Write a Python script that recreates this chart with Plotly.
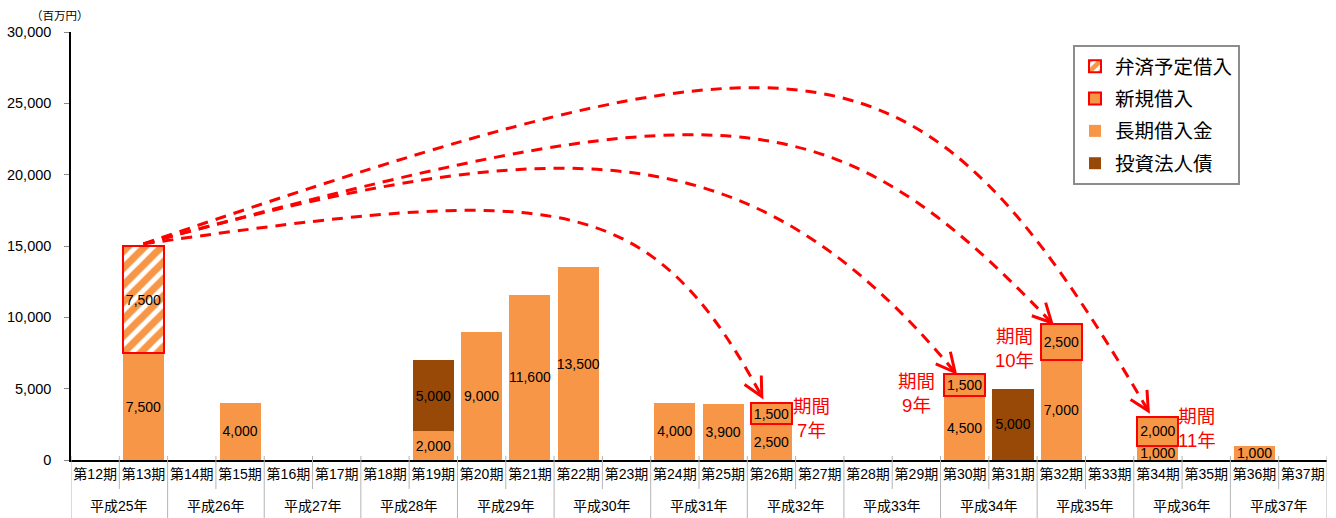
import numpy as np
import plotly.graph_objects as go

# ---------------- data ----------------
periods = [f"第{i}期" for i in range(12, 38)]
years = [f"平成{y}年" for y in range(25, 38)]

long_term = [None, 7500, None, 4000, None, None, None, 2000, 9000, 11600, 13500, None, 4000,
             3900, 2500, None, None, None, 4500, None, 7000, None, 1000, None, 1000, None]
bonds = [None, None, None, None, None, None, None, 5000, None, None, None, None, None,
         None, None, None, None, None, None, 5000, None, None, None, None, None, None]
repay = [None, 7500, None, None, None, None, None, None, None, None, None, None, None,
         None, None, None, None, None, None, None, None, None, None, None, None, None]
new_loan = [None, None, None, None, None, None, None, None, None, None, None, None, None,
            None, 1500, None, None, None, 1500, None, 2500, None, 2000, None, None, None]
term_years = ["7年", "9年", "10年", "11年"]

# decorative arc layout (category position / value of arc apex, end slope)
arc_peak_x = [7.76, 9.62, 12.31, 13.62]
arc_peak_v = [17500, 20450, 22800, 26100]
arc_end_slope = [1.85, 1.2, 1.05, 1.7]
tip_gap = [450, 150, 120, 450]
label_dx = [0.82, -0.99, -0.96, 0.81]
label_v = [2944, 4696, 7850, 2243]

ORANGE = "#F79646"
BROWN = "#984807"
RED = "#FF0000"
FONT = "Liberation Sans, Arial, Noto Sans CJK JP, sans-serif"

n = len(periods)
xs = list(range(n))
YMAX = 30000

# layout geometry
W, H = 1336, 518
ML, MR, MT, MB = 71, 9, 32, 58
PW, PH = W - ML - MR, H - MT - MB
sx = PW / n


def to_px(xd, v):
    return ML + (xd + 0.5) * sx, MT + PH * (1 - v / YMAX)


def to_data(px, py):
    return (px - ML) / sx - 0.5, (1 - (py - MT) / PH) * YMAX


fig = go.Figure()
txt = dict(texttemplate="%{y:,}", textposition="inside", insidetextanchor="middle",
           textangle=0, constraintext="none",
           textfont=dict(size=14, color="black", family=FONT))

fig.add_trace(go.Bar(x=xs, y=long_term, name="長期借入金", marker=dict(color=ORANGE, line=dict(width=0)),
                     legendrank=3, legendgroup="c", **txt))
fig.add_trace(go.Bar(x=xs, y=bonds, name="投資法人債", marker=dict(color=BROWN, line=dict(width=0)),
                     legendrank=4, legendgroup="d", **txt))
fig.add_trace(go.Bar(x=xs, y=repay, name="弁済予定借入",
                     marker=dict(color="white", line=dict(color=RED, width=2),
                                 pattern=dict(shape="/", fgcolor=ORANGE, bgcolor="white",
                                              size=12, solidity=0.6, fgopacity=1)),
                     legendrank=1, legendgroup="a", **txt))
fig.add_trace(go.Bar(x=xs, y=new_loan, name="新規借入",
                     marker=dict(color=ORANGE, line=dict(color=RED, width=2)),
                     legendrank=2, legendgroup="b", **txt))

shapes = []
annotations = []

# --- arcs from the repayment bar to the new-loan bars ---
src_i = next(i for i, v in enumerate(repay) if v)
src_top = (long_term[src_i] or 0) + (bonds[src_i] or 0) + repay[src_i]
S = to_px(src_i, src_top + 150)
targets = [i for i, v in enumerate(new_loan) if v]
ts = np.linspace(0, 1, 4001)
for k, ti in enumerate(targets):
    top = (long_term[ti] or 0) + (bonds[ti] or 0) + new_loan[ti]
    E = to_px(ti - 0.2, top + tip_gap[k])
    Pk = to_px(arc_peak_x[k], arc_peak_v[k])
    w = 3 * ts * (1 - ts)
    base = (1 - ts) ** 3 * S[1] + ts ** 3 * E[1]
    lo, hi = Pk[1] - 600, Pk[1]
    for _ in range(80):
        mid = (lo + hi) / 2
        if (base + w * mid).min() < Pk[1]:
            lo = mid
        else:
            hi = mid
    Yc = (lo + hi) / 2
    t = ts[np.argmin(base + w * Yc)]
    P2x = E[0] - (E[1] - Yc) / arc_end_slope[k]
    b0, b1, b2, b3 = (1 - t) ** 3, 3 * (1 - t) ** 2 * t, 3 * (1 - t) * t ** 2, t ** 3
    P1x = (Pk[0] - b0 * S[0] - b2 * P2x - b3 * E[0]) / b1
    pts = [to_data(*S), to_data(P1x, Yc), to_data(P2x, Yc), to_data(*E)]
    path = "M {},{} C {},{} {},{} {},{}".format(*[c for p in pts for c in p])
    shapes.append(dict(type="path", path=path, xref="x", yref="y",
                       line=dict(color=RED, width=3, dash="11px,8px"), layer="above"))
    # arrow head
    d = np.array([P2x - E[0], Yc - E[1]])
    d = d / np.linalg.norm(d)
    arms = []
    for ang in (np.radians(27), -np.radians(27)):
        r = np.array([[np.cos(ang), -np.sin(ang)], [np.sin(ang), np.cos(ang)]]) @ d
        arms.append(to_data(E[0] + 21 * r[0], E[1] + 21 * r[1]))
    tip = to_data(*E)
    hp = "M {},{} L {},{} L {},{}".format(arms[0][0], arms[0][1], tip[0], tip[1], arms[1][0], arms[1][1])
    shapes.append(dict(type="path", path=hp, xref="x", yref="y",
                       line=dict(color=RED, width=3), layer="above"))
    annotations.append(dict(x=ti + label_dx[k], y=label_v[k], xref="x", yref="y",
                            text="期間<br>" + term_years[k], showarrow=False,
                            xanchor="center", yanchor="middle",
                            font=dict(size=18.5, color=RED, family=FONT), align="center"))

# --- category separators ---
y_top = 4 / PH
for j in range(n + 1):
    long_line = (j % 2 == 0)
    y1 = -(H - MT - PH) / PH if long_line else -29 / PH
    shapes.append(dict(type="line", xref="x", yref="paper", x0=j - 0.5, x1=j - 0.5,
                       y0=y_top, y1=y1, line=dict(color="#b4b4b4", width=1)))

for k, yl in enumerate(years):
    annotations.append(dict(x=2 * k + 0.5, y=-46 / PH, xref="x", yref="paper", text=yl,
                            showarrow=False, yanchor="middle", xanchor="center",
                            font=dict(size=14, color="black", family=FONT)))

annotations.append(dict(x=(60 - ML) / PW, y=1 + 16 / PH, xref="paper", yref="paper",
                        text="（百万円）", showarrow=False, yanchor="middle", xanchor="center",
                        font=dict(size=11.5, color="black", family=FONT)))

fig.update_layout(
    width=W, height=H,
    margin=dict(l=ML, r=MR, t=MT, b=MB, autoexpand=False),
    barmode="stack", bargap=0.15,
    plot_bgcolor="white", paper_bgcolor="white",
    font=dict(family=FONT, color="black"),
    shapes=shapes, annotations=annotations,
    legend=dict(x=(1073 - ML) / PW, y=(H - MB - 45) / PH, xanchor="left", yanchor="top",
                bordercolor="#8c8c8c", borderwidth=2, bgcolor="white",
                font=dict(size=19.5, family=FONT, color="black"),
                traceorder="grouped", tracegroupgap=4),
    showlegend=True,
    xaxis=dict(range=[-0.5, n - 0.5], tickvals=xs, ticktext=periods, ticks="",
               showline=True, linecolor="black", linewidth=1.5, showgrid=False, zeroline=False,
               tickfont=dict(size=14, color="black", family=FONT), fixedrange=True),
    yaxis=dict(range=[0, YMAX], tickvals=list(range(0, YMAX + 1, 5000)), tickformat=",",
               ticks="outside", ticklen=5, tickcolor="#888", showline=True, linecolor="black",
               linewidth=1.5, showgrid=False, zeroline=False, ticklabelstandoff=10,
               tickfont=dict(size=14.5, color="black", family=FONT)),
)

fig.write_html("out.html", config={"displayModeBar": False},
               post_script="document.body.style.margin='0';document.body.style.overflow='hidden';")
